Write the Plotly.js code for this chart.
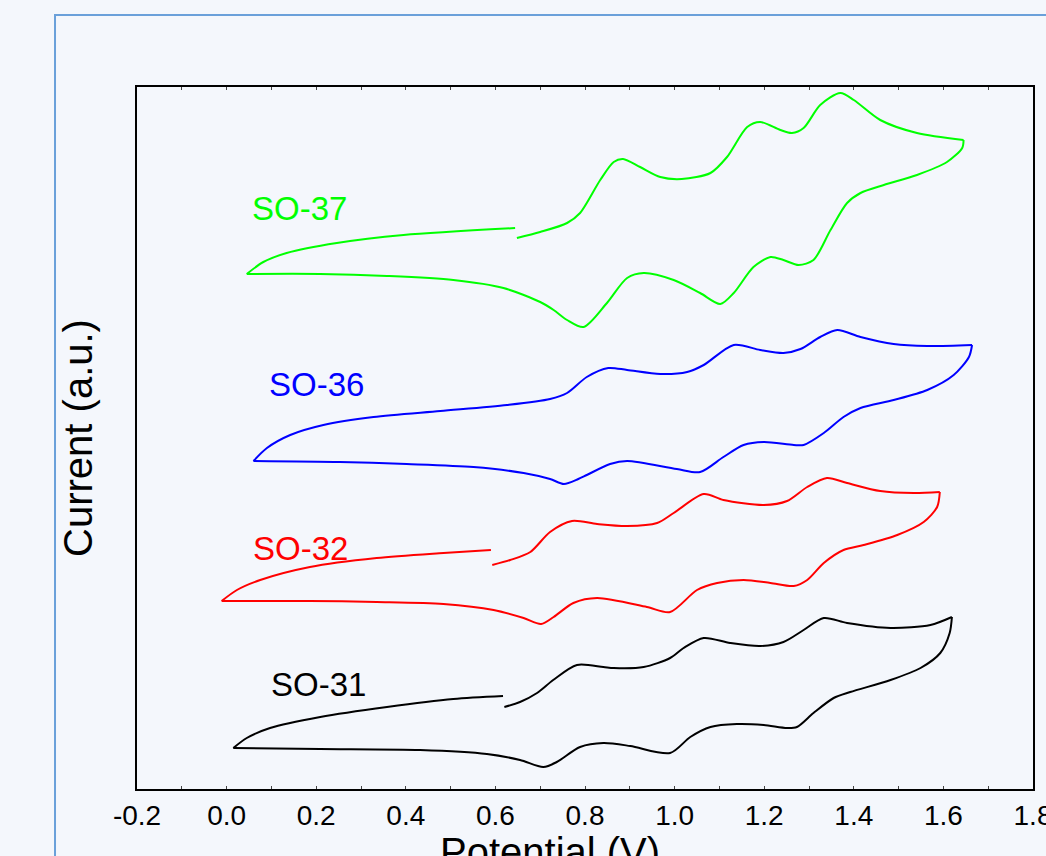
<!DOCTYPE html>
<html>
<head>
<meta charset="utf-8">
<script src="https://cdn.plot.ly/plotly-3.0.1.min.js"></script>
<style>
html,body{margin:0;padding:0;background:#f4f7fc;overflow:hidden;}
#chart{width:1046px;height:856px;}
</style>
</head>
<body>
<div id="chart"></div>
<script>
// Potential (V) and current (a.u.), split into scan branches
// SO-37
const so37_fwd_x = [0.648,0.700,0.760,0.789,0.834,0.864,0.885,0.923,0.968,1.016,1.080,1.117,1.162,1.191,1.236,1.262,1.288,1.325,1.370,1.400,1.459,1.541,1.645];
const so37_fwd_y = [551,557,566,576,609,627,630,622,612,610,616,632,662,667,659,656,661,684,696,689,669,656,649];
const so37_rev_x = [1.645,1.642,1.608,1.541,1.467,1.415,1.385,1.348,1.310,1.277,1.243,1.214,1.176,1.132,1.102,1.057,0.998,0.931,0.894,0.849,0.797,0.760,0.730,0.700,0.618,0.506,0.358,0.209,0.045];
const so37_rev_y = [649,641,627,614,604,596,586,559,529,524,529,532,522,496,485,496,509,516,511,486,462,469,479,487,501,509,513,515,515];
const so37_back_x = [0.045,0.082,0.134,0.246,0.395,0.644];
const so37_back_y = [515,527,536,546,554,561];

// SO-36
const so36_fwd_x = [0.060,0.090,0.142,0.216,0.328,0.477,0.626,0.722,0.760,0.804,0.852,0.894,0.968,1.028,1.065,1.132,1.191,1.243,1.281,1.325,1.363,1.415,1.489,1.564,1.664];
const so36_fwd_y = [328,341,354,364,372,378,384,390,396,412,421,419,415,417,424,444,439,436,440,452,459,452,445,443,444];
const so36_rev_x = [1.664,1.657,1.623,1.564,1.489,1.415,1.377,1.333,1.288,1.266,1.199,1.154,1.109,1.057,1.005,0.894,0.856,0.804,0.785,0.753,0.722,0.663,0.551,0.402,0.253,0.060];
const so36_rev_y = [444,432,414,399,389,381,372,356,344,344,347,344,332,317,320,328,325,314,310,305,310,316,322,325,327,328];

// SO-32
const so32_fwd_x = [0.593,0.633,0.678,0.722,0.771,0.827,0.894,0.961,0.998,1.065,1.109,1.199,1.251,1.296,1.340,1.385,1.459,1.534,1.592];
const so32_fwd_y = [224,229,237,257,268,265,263,266,276,295,289,284,288,302,311,306,298,296,297];
const so32_rev_x = [1.592,1.586,1.556,1.497,1.422,1.377,1.333,1.296,1.266,1.214,1.154,1.095,1.050,0.990,0.938,0.827,0.774,0.730,0.702,0.663,0.596,0.484,0.335,0.186,-0.011];
const so32_rev_y = [297,282,267,254,244,239,226,209,203,206,209,206,199,177,182,191,186,172,165,171,179,185,187,188,188];
const so32_back_x = [-0.011,0.023,0.075,0.186,0.335,0.484,0.590];
const so32_back_y = [188,199,209,222,231,236,239];

// SO-31
const so31_fwd_x = [0.620,0.655,0.693,0.729,0.782,0.841,0.864,0.931,0.990,1.020,1.065,1.124,1.191,1.243,1.288,1.333,1.385,1.482,1.571,1.619];
const so31_fwd_y = [82,87,96,109,124,122,121,122,131,141,151,146,143,147,159,171,166,161,164,172];
const so31_rev_x = [1.619,1.614,1.593,1.549,1.482,1.392,1.355,1.310,1.273,1.251,1.199,1.139,1.080,1.035,0.990,0.901,0.841,0.789,0.737,0.707,0.655,0.581,0.432,0.209,0.015];
const so31_rev_y = [172,156,136,121,109,97,91,76,62,61,64,65,62,52,36,43,46,42,27,22,29,35,39,40,41];
const so31_back_x = [0.015,0.045,0.097,0.209,0.358,0.506,0.617];
const so31_back_y = [41,51,61,72,82,90,93];

const seriesNames = ["SO-37","SO-36","SO-32","SO-31"];
const seriesColors = ["#00ff00","#0000ff","#ff0000","#000000"];
const labelX = [0.162,0.200,0.164,0.206];
const labelY = [581,405,241,105];

const tickVals = [-0.2,0.0,0.2,0.4,0.6,0.8,1.0,1.2,1.4,1.6,1.8];
const tickText = ["-0.2","0.0","0.2","0.4","0.6","0.8","1.0","1.2","1.4","1.6","1.8"];

const branches = [
  [[so37_fwd_x, so37_fwd_y],[so37_rev_x, so37_rev_y],[so37_back_x, so37_back_y]],
  [[so36_fwd_x, so36_fwd_y],[so36_rev_x, so36_rev_y]],
  [[so32_fwd_x, so32_fwd_y],[so32_rev_x, so32_rev_y],[so32_back_x, so32_back_y]],
  [[so31_fwd_x, so31_fwd_y],[so31_rev_x, so31_rev_y],[so31_back_x, so31_back_y]]
];

const FONT = "Liberation Sans, Arial, Helvetica, sans-serif";

const traces = [];
branches.forEach((br, i) => {
  br.forEach(([x, y]) => {
    traces.push({
      x: x, y: y, type: "scatter", mode: "lines", name: seriesNames[i],
      line: {color: seriesColors[i], width: 2, shape: "spline", smoothing: 0.8},
      hoverinfo: "skip"
    });
  });
});

const annotations = seriesNames.map((n, i) => ({
  x: labelX[i], y: labelY[i], xref: "x", yref: "y", text: n, showarrow: false,
  font: {family: FONT, size: 33, color: seriesColors[i]}, xanchor: "center", yanchor: "middle"
}));
annotations.push({
  x: 0.461, y: -0.09, xref: "paper", yref: "paper", text: "Potential (V)", showarrow: false,
  font: {family: FONT, size: 40, color: "#000"}, xanchor: "center", yanchor: "middle"
});

const layout = {
  width: 1046, height: 856,
  margin: {l: 137, r: 13, t: 87, b: 67, pad: 0},
  paper_bgcolor: "#f4f7fc", plot_bgcolor: "#f4f7fc",
  showlegend: false,
  font: {family: FONT, color: "#000"},
  xaxis: {
    range: [-0.2, 1.8], tickmode: "array", tickvals: tickVals, ticktext: tickText,
    ticklabeloverflow: "allow",
    ticks: "inside", ticklen: 3, tickwidth: 1, tickcolor: "#444",
    minor: {dtick: 0.1, tick0: -0.2, ticks: "inside", ticklen: 3, tickwidth: 1, tickcolor: "#444", showgrid: false},
    showline: true, linecolor: "#000", linewidth: 2, mirror: "allticks",
    showgrid: false, zeroline: false,
    tickfont: {family: FONT, size: 28, color: "#000"}
  },
  yaxis: {
    range: [0, 702], showticklabels: false, ticks: "",
    showline: true, linecolor: "#000", linewidth: 2, mirror: true,
    showgrid: false, zeroline: false,
    title: {text: "Current (a.u.)", font: {family: FONT, size: 40, color: "#000"}, standoff: 30}
  },
  annotations: annotations,
  shapes: [{
    type: "rect", xref: "paper", yref: "paper", layer: "below",
    x0: -0.0915, x1: 1.08, y0: -0.16, y1: 1.1026,
    line: {color: "#6aa0da", width: 2}, fillcolor: "rgba(0,0,0,0)"
  }]
};

Plotly.newPlot("chart", traces, layout, {displayModeBar: false, staticPlot: true});
</script>
</body>
</html>
